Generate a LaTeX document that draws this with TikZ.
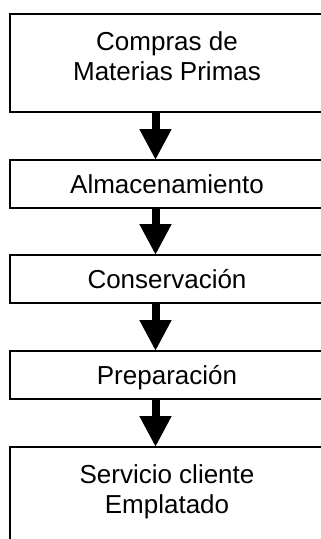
\documentclass[tikz,border=0pt]{standalone}
\usepackage{fontspec}
\setmainfont{Liberation Sans}
\usetikzlibrary{positioning}
\usetikzlibrary{arrows.meta}
\tikzstyle{stage}=[draw=black, line width=1.3pt, minimum width=314pt, inner sep=0pt, outer sep=0pt, align=center, anchor=north west, font=\fontsize{26}{30}\selectfont]
\tikzstyle{short}=[stage, minimum height=48pt, text height=18pt, text depth=0pt]
\tikzstyle{tall}=[stage, minimum height=98pt, text height=48pt, text depth=14pt]
\tikzstyle{flow}=[line width=8pt, -{Triangle[width=30pt,length=31pt]}]

\begin{document}
\begin{tikzpicture}[x=1pt, y=-1pt]
  \clip (0,0) rectangle (321,539);
  \useasboundingbox (0,0) rectangle (321,539);

  \node [tall] (compras) at (10,14) {Compras de\\Materias Primas};
  \node [short] (almacen) at (10,160) {Almacenamiento};
  \node [short] (conserva) at (10,255) {Conservación};
  \node [short] (prepara) at (10,351) {Preparación};
  \node [tall] (servicio) at (10,447) {Servicio cliente\\Emplatado};

  \coordinate (axis) at (155.5,0);

  \draw [flow] (compras.south -| axis) -- (almacen.north -| axis);
  \draw [flow] (almacen.south -| axis) -- (conserva.north -| axis);
  \draw [flow] (conserva.south -| axis) -- (prepara.north -| axis);
  \draw [flow] (prepara.south -| axis) -- (servicio.north -| axis);
\end{tikzpicture}
\end{document}
